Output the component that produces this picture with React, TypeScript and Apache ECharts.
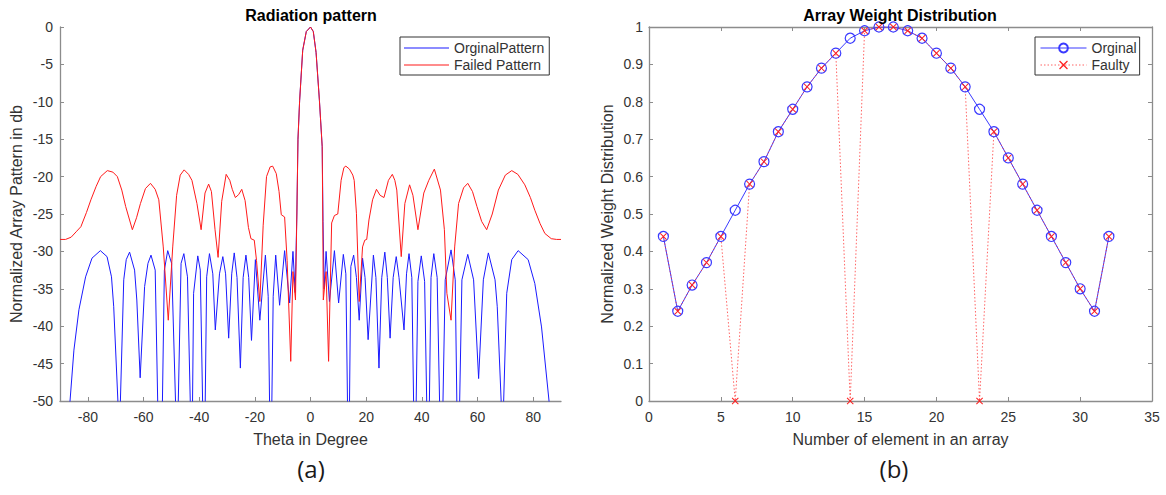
import React, { useEffect, useRef } from "react";
import * as echarts from "echarts";

// ---------- data ----------
const thetaTicks = [-80, -60, -40, -20, 0, 20, 40, 60, 80];

// [theta (deg), level (dB)] for the original (blue) pattern
const originalPattern: number[][] = [
  [-90, -72], [-86.4, -50], [-85, -43.2], [-83.2, -37.8], [-80.8, -33.4], [-78.5, -30.9],
  [-75.5, -29.9], [-73.1, -30.7], [-71.5, -33.4], [-70.7, -37.4], [-69.2, -50], [-68.8, -62],
  [-68.3, -50], [-67.1, -33.8], [-66.2, -31.1], [-65, -30.1], [-63.2, -32.5], [-62.4, -36.5],
  [-61.2, -46.9], [-59.6, -34.7], [-58.4, -31.6], [-57.3, -30.5], [-55.8, -32.5], [-54.9, -50],
  [-54.1, -62], [-53.2, -50], [-52.5, -32.5], [-51.3, -29.9], [-49.9, -31.6], [-48.5, -50],
  [-48, -62], [-47.5, -50], [-46.5, -31.6], [-45.5, -30.3], [-44.2, -33.4], [-43.2, -50],
  [-42.7, -62], [-42, -35.6], [-40.5, -30.6], [-39.6, -32.5], [-38.2, -62], [-37.3, -33.4],
  [-36.3, -30.3], [-35.1, -33], [-34.2, -40.5], [-32.7, -33], [-31.5, -30.7], [-30.5, -33],
  [-29.4, -41.6], [-28.3, -33], [-27.4, -30.2], [-26.4, -33.5], [-25.2, -45.6], [-24.2, -33.5],
  [-23.2, -30.5], [-22.2, -33.5], [-21.2, -41.9], [-19.8, -31.1], [-18.2, -39.2], [-16.2, -30.5],
  [-15.2, -36], [-14.3, -62], [-13.4, -36], [-12.5, -30.5], [-11.1, -37.2], [-9.3, -29.9],
  [-7.5, -36.9], [-6.3, -30], [-5.5, -35.5], [-4.9, -25], [-4.5, -15], [-3.9, -9.8],
  [-2.8, -3.1], [-1.5, -0.6], [0, 0], [1, -0.6], [2, -3.4], [3.2, -9.8], [4.2, -16],
  [4.5, -26], [4.9, -35], [5.6, -30], [6.8, -36.7], [8.6, -29.9], [10.1, -36.9], [11.8, -30.4],
  [12.7, -33], [13.7, -62], [14.5, -32], [15.5, -30.5], [16.5, -33.5], [17.5, -39.2],
  [18.7, -30.9], [19.6, -33.5], [20.7, -41.8], [22.6, -30.5], [23.5, -33.5], [24.6, -45.6],
  [25.6, -33.5], [26.7, -30.1], [27.6, -33.5], [28.6, -41.6], [29.7, -33.5], [30.8, -30.7],
  [31.8, -33.5], [33.6, -40.5], [34.5, -33], [35.4, -30.3], [36.4, -33.5], [37.5, -62],
  [38.6, -34], [39.8, -30.6], [41, -34], [42.3, -62], [43.3, -33.5], [44.3, -30.3],
  [45.5, -33.5], [47, -62], [48.4, -33.8], [50.5, -29.8], [52, -33.8], [53, -62],
  [54.4, -33.8], [56.5, -30.4], [58.6, -33.8], [60.4, -47], [62.1, -33.8], [63.9, -30.2],
  [66.3, -33.8], [67.1, -37.4], [68.5, -50], [68.9, -62], [69.4, -50], [70.5, -35.6],
  [72.3, -31.1], [74.6, -29.9], [78.2, -31.1], [80.6, -34.3], [83, -40.1], [85.7, -50],
  [90, -72],
];

// [theta (deg), level (dB)] for the failed (red) pattern
const failedPattern: number[][] = [
  [-90, -28.4], [-88, -28.4], [-86, -28.1], [-84, -27.3], [-82.5, -26.7], [-80.5, -24.8],
  [-78.9, -23.1], [-77, -21.3], [-75.4, -20], [-73, -19.2], [-71, -19.4], [-69.4, -20],
  [-67.8, -21.8], [-66.4, -24], [-64, -27.1], [-62.5, -25.5], [-61.1, -23.6], [-59.3, -21.6],
  [-57.5, -20.9], [-55.8, -21.7], [-54.5, -23.1], [-52.9, -29.4], [-51.1, -39.2], [-49.5, -29.4],
  [-48.1, -22.5], [-46.8, -19.8], [-45.4, -19.1], [-43.8, -19.7], [-42.6, -20.5], [-40.8, -23.6],
  [-39.3, -27.1], [-37.9, -22.2], [-36.6, -21], [-35.6, -22], [-34.3, -27.1], [-33.2, -30.8],
  [-31.9, -23.3], [-30.3, -19.7], [-29, -20.5], [-28.1, -21.7], [-27, -22.8], [-25.8, -22.4],
  [-24.7, -21.7], [-23.5, -23.2], [-22.3, -26.8], [-21.4, -28.3], [-20.2, -28.5], [-19.4, -31.2],
  [-18.2, -36.7], [-17, -26.5], [-15.8, -20], [-14.5, -18.7], [-13.6, -18.6], [-12.3, -19.6],
  [-11.3, -22], [-10.5, -25.1], [-9.3, -25.4], [-8.4, -31.2], [-7.1, -44.7], [-6.3, -32.7],
  [-5.4, -36.5], [-4.9, -25], [-4.5, -15], [-3.9, -9.8], [-2.8, -3.1], [-1.5, -0.6], [0, 0],
  [1, -0.6], [2, -3.4], [3.2, -9.8], [4.2, -16], [4.4, -25], [4.6, -36.5], [5.6, -32.7],
  [6.5, -44.7], [7.6, -26.2], [8.6, -25.2], [9.8, -25], [11, -20.5], [12, -18.8], [12.7, -18.6],
  [14, -19], [15.2, -19.8], [15.7, -20.5], [16.5, -24.9], [17.5, -36.7], [18.7, -29.4],
  [19.5, -28.5], [20.2, -28.4], [21, -25.8], [22.3, -23.1], [23.7, -21.7], [25, -22.5],
  [26.4, -22.8], [28, -20.5], [29.4, -19.7], [30.3, -20.5], [31, -21.8], [32.6, -30.7],
  [33.9, -23.6], [35.6, -21.1], [36.8, -22.5], [38.6, -27.1], [40.7, -22.2], [42.5, -20.5],
  [44.5, -19], [46.7, -21.8], [48.1, -27.1], [49, -35.6], [50.5, -39.2], [51.8, -29.4],
  [53.2, -23.6], [55, -21.5], [56.5, -20.9], [58.2, -22], [59.8, -24], [61.5, -26],
  [63.3, -27.1], [65.3, -25], [67.5, -21.8], [70, -19.8], [72.3, -19.2], [74.5, -19.7],
  [77, -21.1], [79, -22.8], [80.6, -24.5], [82.5, -26.3], [84.2, -27.6], [86.5, -28.3],
  [88.4, -28.4], [90, -28.4],
];

const elements = [1, 2, 3, 4, 5, 6, 7, 8, 9, 10, 11, 12, 13, 14, 15, 16, 17, 18, 19, 20, 21, 22, 23, 24, 25, 26, 27, 28, 29, 30, 31, 32];
const originalWeights = [0.44, 0.24, 0.31, 0.37, 0.44, 0.51, 0.58, 0.64, 0.72, 0.78, 0.84, 0.89, 0.93, 0.97, 0.99, 1.0, 1.0, 0.99, 0.97, 0.93, 0.89, 0.84, 0.78, 0.72, 0.65, 0.58, 0.51, 0.44, 0.37, 0.30, 0.24, 0.44];
const faultyWeights = [0.44, 0.24, 0.31, 0.37, 0.44, 0, 0.58, 0.64, 0.72, 0.78, 0.84, 0.89, 0.93, 0, 0.99, 1.0, 1.0, 0.99, 0.97, 0.93, 0.89, 0.84, 0, 0.72, 0.65, 0.58, 0.51, 0.44, 0.37, 0.30, 0.24, 0.44];

// ---------- styling ----------
const FONT = '"Liberation Sans", Arial, Helvetica, sans-serif';
const AXIS = "#8c8c8c";
const TXT = "#333333";
const X_SYMBOL =
  "path://M1,0 L5,4 L9,0 L10,1 L6,5 L10,9 L9,10 L5,6 L1,10 L0,9 L4,5 L0,1 Z";
const LINE_ICON = "path://M0,0 L45,0 L45,1 L0,1 Z";

const axisBase = (extra: any = {}) => ({
  type: "value",
  axisLine: { show: true, onZero: false, lineStyle: { color: AXIS, width: 1.3 } },
  axisTick: { show: true, inside: true, length: 4, lineStyle: { color: AXIS } },
  axisLabel: { fontSize: 14, color: TXT, fontFamily: FONT },
  splitLine: { show: false },
  nameTextStyle: { fontSize: 16, color: TXT, fontFamily: FONT },
  ...extra,
});

const option: any = {
  animation: false,
  backgroundColor: "#ffffff",
  textStyle: { fontFamily: FONT },
  title: [
    {
      text: "Radiation pattern",
      left: 311,
      top: 7,
      textAlign: "center",
      padding: 0,
      textStyle: { fontSize: 16, fontWeight: "bold", color: "#000", fontFamily: FONT },
    },
    {
      text: "Array Weight Distribution",
      left: 900,
      top: 7,
      textAlign: "center",
      padding: 0,
      textStyle: { fontSize: 16, fontWeight: "bold", color: "#000", fontFamily: FONT },
    },
  ],
  grid: [
    { left: 60, top: 27, width: 501, height: 374 },
    { left: 649, top: 27, width: 503, height: 374 },
  ],
  xAxis: [
    axisBase({
      gridIndex: 0,
      min: -90,
      max: 90,
      position: "bottom",
      name: "Theta in Degree",
      nameLocation: "middle",
      nameGap: 30,
      axisTick: { show: true, inside: true, length: 4, customValues: thetaTicks, lineStyle: { color: AXIS } },
      axisLabel: { fontSize: 14, color: TXT, fontFamily: FONT, margin: 9, customValues: thetaTicks },
    }),
    axisBase({
      gridIndex: 1,
      min: 0,
      max: 35,
      interval: 5,
      position: "bottom",
      name: "Number of element in an array",
      nameLocation: "middle",
      nameGap: 30,
      axisLabel: { fontSize: 14, color: TXT, fontFamily: FONT, margin: 9 },
    }),
    axisBase({
      gridIndex: 1,
      min: 0,
      max: 35,
      interval: 5,
      position: "top",
      axisLabel: { show: false },
    }),
  ],
  yAxis: [
    axisBase({
      gridIndex: 0,
      min: -50,
      max: 0,
      interval: 5,
      position: "left",
      name: "Normalized Array Pattern in db",
      nameLocation: "middle",
      nameGap: 36,
      axisLabel: { fontSize: 14, color: TXT, fontFamily: FONT, margin: 7 },
    }),
    axisBase({
      gridIndex: 1,
      min: 0,
      max: 1,
      interval: 0.1,
      position: "left",
      name: "Normalized Weight Distribution",
      nameLocation: "middle",
      nameGap: 34,
      axisLabel: { fontSize: 14, color: TXT, fontFamily: FONT, margin: 6 },
    }),
    axisBase({
      gridIndex: 1,
      min: 0,
      max: 1,
      interval: 0.1,
      position: "right",
      axisLabel: { show: false },
    }),
  ],
  legend: [
    {
      data: [
        { name: "OrginalPattern", icon: LINE_ICON },
        { name: "Failed Pattern", icon: LINE_ICON },
      ],
      left: 400,
      top: 37,
      orient: "vertical",
      itemWidth: 45,
      itemHeight: 14,
      itemGap: 3,
      padding: [4, 5, 3, 4],
      borderColor: "#333",
      borderWidth: 1,
      borderRadius: 0,
      backgroundColor: "#fff",
      selectedMode: false,
      textStyle: { fontSize: 14, color: TXT, fontFamily: FONT },
    },
    {
      data: ["Orginal", "Faulty"],
      left: 1035,
      top: 37,
      orient: "vertical",
      itemWidth: 46,
      itemHeight: 11,
      itemGap: 3,
      padding: [4, 3, 3, 5],
      borderColor: "#333",
      borderWidth: 1,
      borderRadius: 0,
      backgroundColor: "#fff",
      selectedMode: false,
      lineStyle: { width: 1 },
      textStyle: { fontSize: 14, color: TXT, fontFamily: FONT },
    },
  ],
  series: [
    {
      name: "OrginalPattern",
      type: "line",
      xAxisIndex: 0,
      yAxisIndex: 0,
      data: originalPattern,
      symbol: "none",
      clip: true,
      lineStyle: { color: "#1a1aff", width: 1 },
      itemStyle: { color: "#1a1aff" },
    },
    {
      name: "Failed Pattern",
      type: "line",
      xAxisIndex: 0,
      yAxisIndex: 0,
      data: failedPattern,
      symbol: "none",
      clip: true,
      lineStyle: { color: "#ff1a1a", width: 1 },
      itemStyle: { color: "#ff1a1a" },
    },
    {
      name: "Orginal",
      type: "line",
      xAxisIndex: 1,
      yAxisIndex: 1,
      data: elements.map((e, i) => [e, originalWeights[i]]),
      symbol: "circle",
      symbolSize: 10,
      showAllSymbol: true,
      lineStyle: { color: "#3a3aff", width: 1 },
      itemStyle: { color: "rgba(255,255,255,0)", borderColor: "#3a3aff", borderWidth: 1.2 },
    },
    {
      name: "Faulty",
      type: "line",
      xAxisIndex: 1,
      yAxisIndex: 1,
      data: elements.map((e, i) => [e, faultyWeights[i]]),
      symbol: X_SYMBOL,
      symbolSize: 7,
      showAllSymbol: true,
      lineStyle: { color: "#ff3030", width: 1, type: [1.5, 2], opacity: 0.75 },
      itemStyle: { color: "#ff2020" },
    },
  ],
  graphic: [
    {
      type: "text",
      x: 311,
      y: 468,
      style: {
        text: "(a)",
        fontSize: 24,
        fontFamily: '"Open Sans", sans-serif',
        fill: "#1a1a1a",
        align: "center",
        verticalAlign: "middle",
        textAlign: "center",
        textVerticalAlign: "middle",
      },
    },
    {
      type: "text",
      x: 894,
      y: 468,
      style: {
        text: "(b)",
        fontSize: 24,
        fontFamily: '"Open Sans", sans-serif',
        fill: "#1a1a1a",
        align: "center",
        verticalAlign: "middle",
        textAlign: "center",
        textVerticalAlign: "middle",
      },
    },
  ],
};

export default function App() {
  const ref = useRef<HTMLDivElement>(null);
  useEffect(() => {
    if (!ref.current) return;
    const chart = echarts.init(ref.current, null, { renderer: "svg" });
    chart.setOption(option);
    return () => chart.dispose();
  }, []);
  return (
    <div
      ref={ref}
      style={{ position: "absolute", left: 0, top: 0, width: 1166, height: 495, background: "#fff" }}
    />
  );
}
